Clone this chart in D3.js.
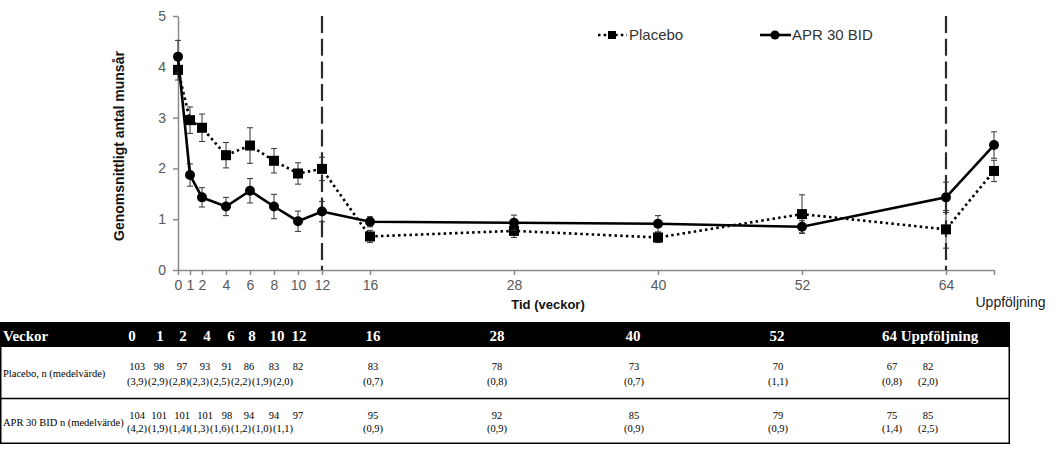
<!DOCTYPE html>
<html>
<head>
<meta charset="utf-8">
<script src="https://cdn.jsdelivr.net/npm/d3@7"></script>
<style>
  html, body { margin: 0; padding: 0; background: #fff; }
  svg { display: block; }
</style>
</head>
<body>
<svg id="chart" width="1064" height="450"></svg>
<script>
// ---------- data ----------
const weeks = [0, 1, 2, 4, 6, 8, 10, 12, 16, 28, 40, 52, 64, 68];
const xTickLabels = ["0", "1", "2", "4", "6", "8", "10", "12", "16", "28", "40", "52", "64", "Uppföljning"];
const yTicks = [0, 1, 2, 3, 4, 5];
const placeboMean = [3.94, 2.95, 2.80, 2.26, 2.45, 2.15, 1.90, 1.99, 0.66, 0.77, 0.64, 1.10, 0.80, 1.95];
const placeboErr  = [0.20, 0.26, 0.27, 0.25, 0.35, 0.24, 0.21, 0.23, 0.12, 0.13, 0.10, 0.38, 0.37, 0.21];
const aprMean     = [4.20, 1.87, 1.43, 1.25, 1.56, 1.25, 0.96, 1.15, 0.95, 0.93, 0.91, 0.85, 1.43, 2.46];
const aprErr      = [0.32, 0.22, 0.19, 0.18, 0.24, 0.24, 0.20, 0.20, 0.10, 0.15, 0.16, 0.12, 0.30, 0.26];
const phaseLines  = [12, 64];
const seriesNames = ["Placebo", "APR 30 BID"];

const tableHeader = ["0", "1", "2", "4", "6", "8", "10", "12", "16", "28", "40", "52", "64 Uppföljning"];
const rowLabels = ["Placebo, n (medelvärde)", "APR 30 BID n (medelvärde)"];
const placeboN = ["103", "98", "97", "93", "91", "86", "83", "82", "83", "78", "73", "70", "67", "82"];
const placeboM = ["(3,9)", "(2,9)", "(2,8)", "(2,3)", "(2,5)", "(2,2)", "(1,9)", "(2,0)", "(0,7)", "(0,8)", "(0,7)", "(1,1)", "(0,8)", "(2,0)"];
const aprN     = ["104", "101", "101", "101", "98", "94", "94", "97", "95", "92", "85", "79", "75", "85"];
const aprM     = ["(4,2)", "(1,9)", "(1,4)", "(1,3)", "(1,6)", "(1,2)", "(1,0)", "(1,1)", "(0,9)", "(0,9)", "(0,9)", "(0,9)", "(1,4)", "(2,5)"];

// ---------- layout ----------
const svg = d3.select("#chart");
svg.append("rect").attr("width", 1064).attr("height", 450).attr("fill", "#fff");

const x = d3.scaleLinear().domain([0, 68]).range([178, 994]);
const y = d3.scaleLinear().domain([0, 5]).range([270, 16]);
const axisColor = "#8a8a8a";
const tickColor = "#595959";

// y axis
const yAxis = svg.append("g").attr("transform", `translate(${x(0)},0)`)
  .call(d3.axisLeft(y).tickValues(yTicks).tickSize(5).tickSizeOuter(0).tickPadding(7).tickFormat(d3.format("d")));
yAxis.select(".domain").attr("stroke", axisColor).attr("stroke-width", 1.5);
yAxis.selectAll(".tick line").attr("stroke", axisColor).attr("stroke-width", 1.5);
yAxis.selectAll(".tick text").attr("fill", tickColor).style("font", "14px Arial, 'Liberation Sans', sans-serif");

// x axis
const xAxis = svg.append("g").attr("transform", `translate(0,${y(0)})`)
  .call(d3.axisBottom(x).tickValues(weeks).tickSize(5).tickSizeOuter(0).tickPadding(5)
    .tickFormat((d, i) => xTickLabels[i]));
xAxis.select(".domain").attr("stroke", axisColor).attr("stroke-width", 1.5);
xAxis.selectAll(".tick line").attr("stroke", axisColor).attr("stroke-width", 1.5);
xAxis.selectAll(".tick text").attr("fill", tickColor).style("font", "14px Arial, 'Liberation Sans', sans-serif");
xAxis.selectAll(".tick").filter((d, i) => i === weeks.length - 1).select("text")
  .attr("text-anchor", "start").attr("x", 975 - x(68)).attr("dy", "1.9em").attr("fill", "#222")
  .style("font-size", "14px");

// axis titles
svg.append("text").attr("transform", "translate(124,146) rotate(-90)")
  .attr("text-anchor", "middle").style("font", "bold 14px Arial, 'Liberation Sans', sans-serif")
  .attr("fill", "#111").text("Genomsnittligt antal munsår");
svg.append("text").attr("x", 548).attr("y", 309).attr("text-anchor", "middle")
  .style("font", "bold 13px Arial, 'Liberation Sans', sans-serif").attr("fill", "#111").text("Tid (veckor)");

// phase lines
svg.selectAll(".phase").data(phaseLines).join("line")
  .attr("x1", d => x(d)).attr("x2", d => x(d)).attr("y1", y(5)).attr("y2", y(0))
  .attr("stroke", "#2a2a2a").attr("stroke-width", 2.2).attr("stroke-dasharray", "17,5.7");

// series
const series = [
  { name: seriesNames[0], mean: placeboMean, err: placeboErr, dash: "2.5,3.2", marker: "square" },
  { name: seriesNames[1], mean: aprMean, err: aprErr, dash: null, marker: "circle" }
];

series.forEach(s => {
  const pts = weeks.map((w, i) => ({ w, v: s.mean[i], e: s.err[i] }));
  const g = svg.append("g");
  const eb = g.selectAll(".eb").data(pts).join("g").attr("stroke", "#333").attr("stroke-width", 1);
  eb.append("line").attr("x1", d => x(d.w)).attr("x2", d => x(d.w))
    .attr("y1", d => y(d.v + d.e)).attr("y2", d => y(d.v - d.e));
  eb.append("line").attr("x1", d => x(d.w) - 3).attr("x2", d => x(d.w) + 3)
    .attr("y1", d => y(d.v + d.e)).attr("y2", d => y(d.v + d.e));
  eb.append("line").attr("x1", d => x(d.w) - 3).attr("x2", d => x(d.w) + 3)
    .attr("y1", d => y(d.v - d.e)).attr("y2", d => y(d.v - d.e));
  g.append("path").datum(pts)
    .attr("d", d3.line().x(d => x(d.w)).y(d => y(d.v)))
    .attr("fill", "none").attr("stroke", "#000").attr("stroke-width", 2.6)
    .attr("stroke-dasharray", s.dash);
  if (s.marker === "square") {
    g.selectAll(".m").data(pts).join("rect")
      .attr("x", d => x(d.w) - 5).attr("y", d => y(d.v) - 5).attr("width", 10).attr("height", 10).attr("fill", "#000");
  } else {
    g.selectAll(".m").data(pts).join("circle")
      .attr("cx", d => x(d.w)).attr("cy", d => y(d.v)).attr("r", 5).attr("fill", "#000");
  }
});

// legend
const legendFont = "15px Arial, 'Liberation Sans', sans-serif";
const lg1 = svg.append("g");
lg1.append("line").attr("x1", 598).attr("x2", 627).attr("y1", 35).attr("y2", 35)
  .attr("stroke", "#000").attr("stroke-width", 2.6).attr("stroke-dasharray", "2.5,3.2");
lg1.append("rect").attr("x", 608).attr("y", 31).attr("width", 8).attr("height", 8).attr("fill", "#000");
lg1.append("text").attr("x", 629).attr("y", 40).style("font", legendFont).attr("fill", "#333").text(seriesNames[0]);
const lg2 = svg.append("g");
lg2.append("line").attr("x1", 760).attr("x2", 791).attr("y1", 35).attr("y2", 35)
  .attr("stroke", "#000").attr("stroke-width", 2.6);
lg2.append("circle").attr("cx", 775).attr("cy", 35).attr("r", 4.5).attr("fill", "#000");
lg2.append("text").attr("x", 792).attr("y", 40).style("font", legendFont).attr("fill", "#333").text(seriesNames[1]);

// ---------- table ----------
const serif = "'Liberation Serif', 'Times New Roman', serif";
const headX = [132, 160, 183, 207, 231, 252, 277, 299, 373, 497, 633, 777, 882];
const nX    = [137, 159, 182, 205, 227, 249, 274, 298, 373, 497, 634, 778, 892, 928];
const mX    = [137, 158, 179, 199, 220, 241, 262, 283, 373, 497, 634, 778, 892, 928];
const tbl = svg.append("g");
tbl.append("rect").attr("x", 0).attr("y", 322).attr("width", 1010).attr("height", 25).attr("fill", "#000");
tbl.append("text").attr("x", 3).attr("y", 341).attr("fill", "#fff")
  .style("font", `bold 15px ${serif}`).text("Veckor");
tbl.selectAll(".hd").data(tableHeader).join("text")
  .attr("x", (d, i) => headX[i]).attr("y", 341)
  .attr("text-anchor", (d, i) => i === tableHeader.length - 1 ? "start" : "middle")
  .attr("fill", "#fff").style("font", `bold 15px ${serif}`).text(d => d);

tbl.append("line").attr("x1", 0.75).attr("x2", 0.75).attr("y1", 347).attr("y2", 444).attr("stroke", "#000").attr("stroke-width", 1.5);
tbl.append("line").attr("x1", 1009.25).attr("x2", 1009.25).attr("y1", 347).attr("y2", 444).attr("stroke", "#000").attr("stroke-width", 1.5);
tbl.append("line").attr("x1", 0).attr("x2", 1010).attr("y1", 398.5).attr("y2", 398.5).attr("stroke", "#000").attr("stroke-width", 1.5);
tbl.append("line").attr("x1", 0).attr("x2", 1010).attr("y1", 443.25).attr("y2", 443.25).attr("stroke", "#000").attr("stroke-width", 1.5);

const rows = [
  { label: rowLabels[0], n: placeboN, m: placeboM, ly: 377, ny: 370, my: 385 },
  { label: rowLabels[1], n: aprN, m: aprM, ly: 426, ny: 419, my: 432 }
];
const bodyFont = `10.5px ${serif}`;
rows.forEach(r => {
  tbl.append("text").attr("x", 3).attr("y", r.ly).style("font", bodyFont).attr("fill", "#000").text(r.label);
  tbl.selectAll(null).data(r.n).join("text")
    .attr("x", (d, i) => nX[i]).attr("y", r.ny).attr("text-anchor", "middle")
    .style("font", bodyFont).attr("fill", "#000").text(d => d);
  tbl.selectAll(null).data(r.m).join("text")
    .attr("x", (d, i) => mX[i]).attr("y", r.my).attr("text-anchor", "middle")
    .style("font", bodyFont).attr("fill", "#000").text(d => d);
});
</script>
</body>
</html>
